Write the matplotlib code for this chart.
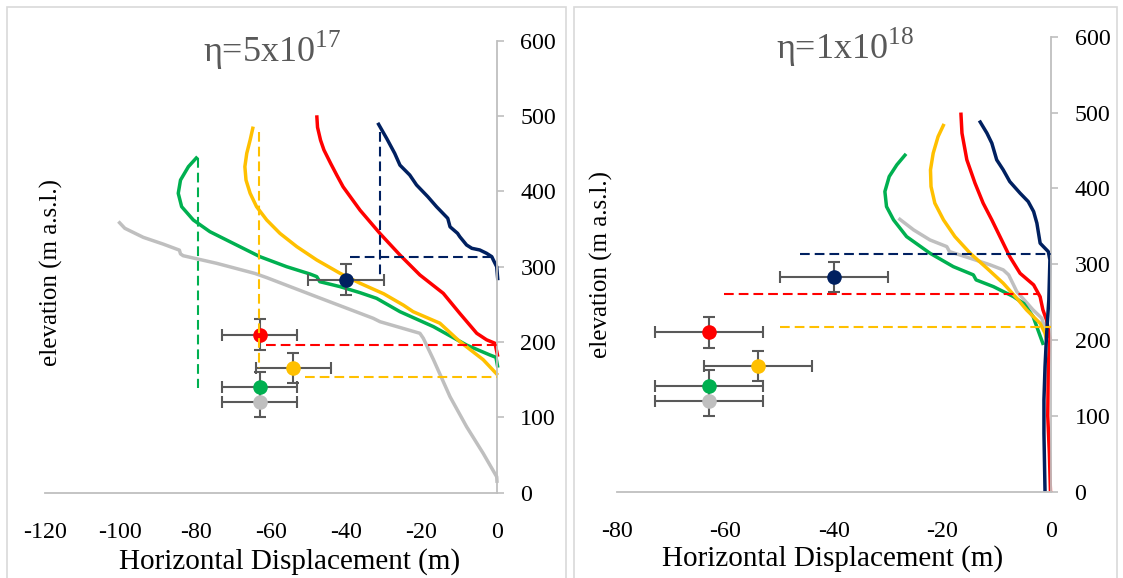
import matplotlib
matplotlib.use("Agg")
import matplotlib.pyplot as plt
from matplotlib.patches import Rectangle

plt.rcParams["font.family"] = "Liberation Serif"
plt.rcParams["mathtext.fontset"] = "custom"
plt.rcParams["mathtext.rm"] = "Liberation Serif"
plt.rcParams["axes.unicode_minus"] = False
plt.rcParams["lines.scale_dashes"] = False

NAVY, RED, YELLOW, GREEN, GRAY = "#002060", "#FF0000", "#FFC000", "#00B050", "#BFBFBF"
AXIS_C = "#BFBFBF"
ERR_C = "#595959"

# ---- observed displacement (same in both panels) ----
obs_x = [-40, -63, -54, -63, -63]
obs_y = [283, 210, 166, 140, 120]
obs_colors = [NAVY, RED, YELLOW, GREEN, GRAY]
obs_xerr = 10
obs_yerr = 20

# ---- modelled profiles, eta = 5e17 ----
gray_a_x = [-100.5, -98.8, -93.9, -88.6, -84.3, -84.0, -83.3, -74.4, -64.2, -61.1, -47.8,
            -32.8, -31.0, -20.4, -19.5, -16.8, -12.4, -8.0, -3.6, 0.0, 0.1]
gray_a_y = [360, 351, 339, 330, 322, 317, 314.6, 304.5, 291, 285.5, 260,
            231.5, 227, 211.6, 205, 176.6, 127.4, 87.6, 52.3, 21.2, 13]
green_a_x = [-79.5, -81.9, -84.0, -84.6, -83.7, -80.6, -76.2, -70.0, -62.9, -55.8, -49.6,
             -47.8, -47.0, -41.6, -36.3, -31.9, -25.7, -16.8, -8.0, -1.8, -0.2, 0.3]
green_a_y = [446, 432.8, 415, 397.4, 379.7, 362, 346.5, 331, 313.3, 300, 290.3,
             286.8, 280.1, 273.5, 265.5, 258, 240.3, 220.4, 196, 182.8, 179.7, 166]
yellow_a_x = [-64.7, -65.5, -66.4, -66.9, -66.6, -65.5, -63.8, -61.1, -57.6, -53.1, -47.8,
              -41.6, -36.3, -30.0, -24.8, -22.2, -15.1, -9.8, -3.6, 0.3]
yellow_a_y = [486, 468.2, 450.5, 432.8, 415, 397.4, 379.7, 362, 344.3, 326.6, 308.9,
              291.2, 278, 264, 249, 240.3, 225, 200.6, 176.6, 156]
red_a_x = [-47.8, -47.6, -46.8, -45.9, -44.1, -42.5, -40.8, -36.3, -31.0, -25.7, -20.4,
           -14.2, -9.8, -5.3, -2.7, -0.45, 0.3]
red_a_y = [501, 485, 468, 455, 437, 421.7, 406, 375, 344, 315.5, 289,
           264.7, 238, 211.6, 203, 198.3, 180.5]
navy_a_x = [-31.6, -29.2, -27.1, -25.7, -23.1, -21.3, -18.3, -16.0, -13.0, -12.4, -10.4,
            -9.8, -8.0, -6.6, -4.5, -2.7, -1.3, -0.9, 0.0, 0.3]
navy_a_y = [491, 470, 450.5, 434.8, 421.7, 408.5, 392.9, 379.7, 364.2, 353, 344.3,
            339.8, 328.8, 324.4, 322.2, 317.8, 313.3, 309, 300, 282]

# dashed guides, eta = 5e17
vguide_a_x = [-31.1, -63.2, -79.3]
vguide_a_top = [479, 479, 444]
vguide_a_bot = [285, 165, 139]
vguide_a_col = [NAVY, YELLOW, GREEN]
hguide_a_y = [313, 196, 154]
hguide_a_x0 = [-39, -61.4, -51]
hguide_a_x1 = [0, 0, 0]
hguide_a_col = [NAVY, RED, YELLOW]

# ---- modelled profiles, eta = 1e18 ----
gray_b_x = [-28.1, -25.3, -22.3, -19.2, -18.7, -14.9, -11.2, -8.8, -7.8, -6.3, -3.3, -1.7, -1.1]
gray_b_y = [360.6, 345.2, 332, 323.2, 316.6, 307.9, 299.1, 292.5, 285.9, 263.9, 239.7, 228.8, 215]
green_b_x = [-26.7, -28.4, -29.8, -30.6, -30.3, -29.0, -26.6, -22.3, -18.0, -14.3, -13.8,
             -10.6, -6.9, -5.0, -3.3, -1.4]
green_b_y = [445.5, 431, 415.6, 395.8, 376, 358.4, 336.4, 314.5, 296.8, 285.9, 279.3,
             270.4, 257.2, 248, 231, 193.5]
yellow_b_x = [-19.7, -20.8, -21.7, -22.2, -22.1, -21.4, -19.8, -17.7, -14.9, -11.8, -8.8,
              -6.3, -4.5, -2.0, -1.1, -0.8]
yellow_b_y = [485, 468.3, 446.4, 424.4, 402.4, 380.5, 358.4, 336.4, 314.5, 294.7, 274.9,
              255.1, 239.7, 222, 209, 200]
red_b_x = [-16.6, -16.4, -15.5, -14.0, -12.5, -10.9, -10.0, -9.1, -7.6, -5.7, -3.2, -2.0,
           -1.5, -0.8, -0.2, -0.5, -0.6, -0.3, -0.1]
red_b_y = [500, 472.8, 437.6, 406.9, 380.5, 358.4, 345.2, 332, 310, 288, 272.7, 257,
           240, 226, 202, 165, 100, 50, 0]
navy_b_x = [-13.2, -11.8, -10.9, -10.0, -8.8, -7.6, -5.7, -4.2, -3.2, -2.6, -2.3, -2.0,
            -1.4, -0.5, -0.2, -0.4, -0.8, -1.1, -1.3, -1.3, -1.1]
navy_b_y = [489.4, 472.8, 459.6, 437.6, 424.4, 409, 393.7, 382.6, 369.4, 354.1, 340.9, 327.7,
            323.2, 316.6, 305.7, 252.9, 209, 165, 121, 77, 0]

# dashed guides, eta = 1e18
hguide_b_y = [313.5, 260.4, 217]
hguide_b_x0 = [-46.2, -60.2, -49.9]
hguide_b_x1 = [0, -2.3, 0]
hguide_b_col = [NAVY, RED, YELLOW]

W, H = 1123, 578
fig = plt.figure(figsize=(W / 100, H / 100), dpi=100)


def px_axes(x0, x1, ytop, ybot):
    return fig.add_axes([x0 / W, 1 - ybot / H, (x1 - x0) / W, (ybot - ytop) / H])


def fx(px):
    return px / W


def fy(py):
    return 1 - py / H


# panel frames
for (x0, x1) in [(7, 566), (574, 1117)]:
    fig.add_artist(Rectangle((fx(x0), -0.05), (x1 - x0) / W, fy(7) + 0.05,
                             transform=fig.transFigure, fill=False,
                             edgecolor="#D9D9D9", linewidth=1.2))

axL = px_axes(45, 496.7, 40.7, 492.7)
axR = px_axes(616.7, 1051, 36.7, 491.7)


def style(ax, xmin, xticks):
    ax.set_xlim(xmin, 0)
    ax.set_ylim(0, 600)
    ax.patch.set_visible(False)
    for s in ["top", "left"]:
        ax.spines[s].set_visible(False)
    for s in ["bottom", "right"]:
        ax.spines[s].set_color(AXIS_C)
        ax.spines[s].set_linewidth(1.3)
    ax.yaxis.tick_right()
    ax.set_yticks(range(0, 601, 100))
    ax.set_xticks(xticks)
    ax.tick_params(axis="y", direction="out", length=5, width=1.2, color=AXIS_C,
                   pad=12, labelsize=17.3)
    ax.tick_params(axis="x", length=0, pad=21, labelsize=17.3)


def draw_curves(ax, curves):
    for z, (x, y, c) in enumerate(curves):
        ax.plot(x, y, color=c, lw=2.5, solid_capstyle="butt", solid_joinstyle="round",
                clip_on=False, zorder=2 + z * 0.1)


def draw_obs(ax):
    for x, y, c in zip(obs_x, obs_y, obs_colors):
        ax.errorbar(x, y, xerr=obs_xerr, yerr=obs_yerr, fmt="none", ecolor=ERR_C,
                    elinewidth=1.5, capsize=4, capthick=1.5, zorder=3)
        ax.plot(x, y, "o", color=c, markersize=10.5, markeredgewidth=0, zorder=4)


DASH = (7, 3.6)

style(axL, -120, range(-120, 1, 20))
draw_curves(axL, [(gray_a_x, gray_a_y, GRAY), (green_a_x, green_a_y, GREEN),
                  (yellow_a_x, yellow_a_y, YELLOW), (red_a_x, red_a_y, RED),
                  (navy_a_x, navy_a_y, NAVY)])
draw_obs(axL)
for x, t, b, c in zip(vguide_a_x, vguide_a_top, vguide_a_bot, vguide_a_col):
    axL.plot([x, x], [t, b], color=c, lw=1.5, dashes=DASH, zorder=5)
for y, a, b, c in zip(hguide_a_y, hguide_a_x0, hguide_a_x1, hguide_a_col):
    axL.plot([a, b], [y, y], color=c, lw=1.5, dashes=DASH, zorder=5, clip_on=False)

style(axR, -80, range(-80, 1, 20))
draw_curves(axR, [(gray_b_x, gray_b_y, GRAY), (green_b_x, green_b_y, GREEN),
                  (yellow_b_x, yellow_b_y, YELLOW), (red_b_x, red_b_y, RED),
                  (navy_b_x, navy_b_y, NAVY)])
draw_obs(axR)
for y, a, b, c in zip(hguide_b_y, hguide_b_x0, hguide_b_x1, hguide_b_col):
    axR.plot([a, b], [y, y], color=c, lw=1.5, dashes=DASH, zorder=5, clip_on=False)

# titles and axis labels
fig.text(fx(272), fy(50), r"η=5x10$^{\mathregular{17}}$", ha="center", va="center",
         fontsize=26, color="#595959")
fig.text(fx(845), fy(47), r"η=1x10$^{\mathregular{18}}$", ha="center", va="center",
         fontsize=26, color="#595959")
fig.text(fx(290), fy(562), "Horizontal Displacement (m)", ha="center", va="center", fontsize=21)
fig.text(fx(833), fy(559), "Horizontal Displacement (m)", ha="center", va="center", fontsize=21)
fig.text(fx(51), fy(273), "elevation (m a.s.l.)", ha="center", va="center", rotation=90, fontsize=18)
fig.text(fx(601), fy(265), "elevation (m a.s.l.)", ha="center", va="center", rotation=90, fontsize=18)

fig.savefig("out.png", dpi=100)
